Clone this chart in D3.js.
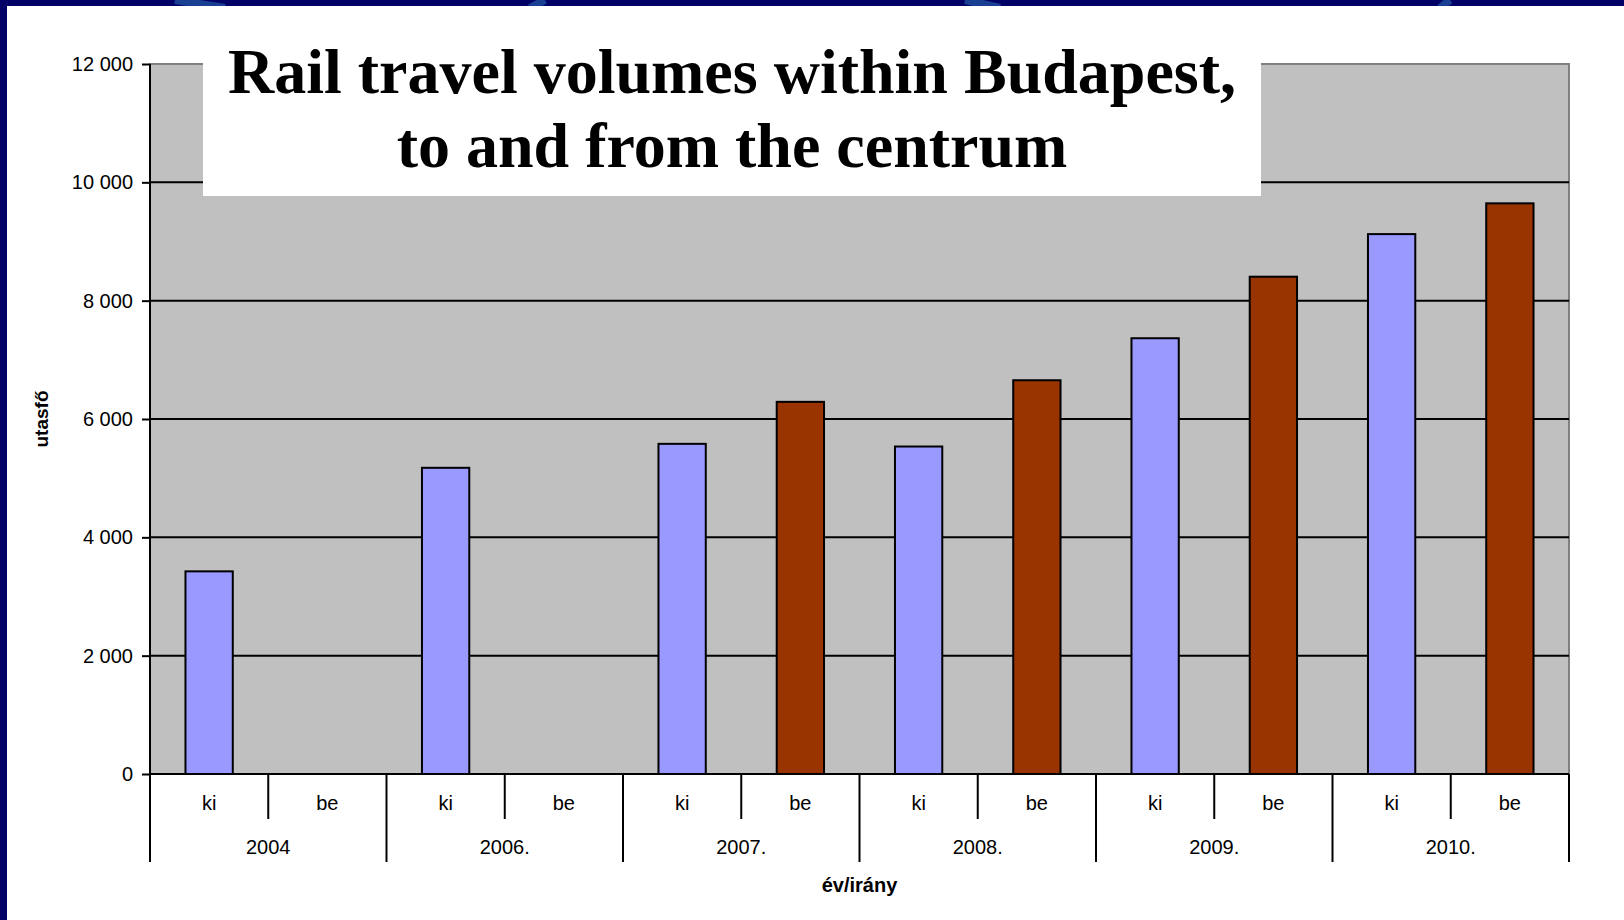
<!DOCTYPE html>
<html>
<head>
<meta charset="utf-8">
<script src="https://cdn.jsdelivr.net/npm/d3@7"></script>
<style>
  html, body { margin: 0; padding: 0; background: #000066; }
  svg { display: block; }
</style>
</head>
<body>
<svg id="chart" width="1624" height="920"></svg>
<script>
// ---- data ----
const years = ["2004", "2006.", "2007.", "2008.", "2009.", "2010."];
const directions = ["ki", "be"];
const kiValues = [3425, 5175, 5580, 5535, 7365, 9125];
const beValues = [null, null, 6290, 6655, 8405, 9645];
const yTickValues = [0, 2000, 4000, 6000, 8000, 10000, 12000];
const titleLines = ["Rail travel volumes within Budapest,", "to and from the centrum"];
const yAxisTitle = "utasfő";
const xAxisTitle = "év/irány";
const seriesColors = { ki: "#9999ff", be: "#993300" };

// ---- layout ----
const W = 1624, H = 920;
const plot = { left: 150, right: 1569, top: 64, bottom: 774 };
const sansFont = "Liberation Sans, Arial, sans-serif";

const svg = d3.select("#chart");

// background frame (navy border + white panel)
svg.append("rect").attr("x", 0).attr("y", 0).attr("width", W).attr("height", H).attr("fill", "#000066");
const deco = svg.append("g").attr("stroke", "#1f4f9f").attr("stroke-width", 8).attr("fill", "none").attr("opacity", 0.8);
[[175, 225], [545, 530], [965, 1000], [1450, 1440]].forEach(([a, b]) => {
  deco.append("line").attr("x1", a).attr("y1", 0).attr("x2", b).attr("y2", 8);
});
svg.append("rect").attr("x", 7).attr("y", 6).attr("width", W - 7).attr("height", H - 6).attr("fill", "#ffffff");

// ---- scales ----
const yScale = d3.scaleLinear().domain([0, 12000]).range([plot.bottom, plot.top]);
const xYear = d3.scaleBand().domain(years).range([plot.left, plot.right]).paddingInner(0).paddingOuter(0);
const xDir = d3.scaleBand().domain(directions).range([0, xYear.bandwidth()]).paddingInner(0.6).paddingOuter(0.3);
const xCat = d3.scaleBand().domain(directions).range([0, xYear.bandwidth()]);

const fmt = v => d3.format(",")(v).replace(/,/g, " ");

// plot area
svg.append("rect")
  .attr("x", plot.left).attr("y", plot.top)
  .attr("width", plot.right - plot.left).attr("height", plot.bottom - plot.top)
  .attr("fill", "#c0c0c0").attr("stroke", "#808080").attr("stroke-width", 2);

// gridlines
svg.append("g").selectAll("line").data(yTickValues.filter(v => v > 0 && v < 12000)).join("line")
  .attr("x1", plot.left).attr("x2", plot.right)
  .attr("y1", d => yScale(d)).attr("y2", d => yScale(d))
  .attr("stroke", "#000").attr("stroke-width", 2);

// bars
const barData = [];
years.forEach((y, i) => {
  if (kiValues[i] != null) barData.push({ year: y, dir: "ki", value: kiValues[i] });
  if (beValues[i] != null) barData.push({ year: y, dir: "be", value: beValues[i] });
});
svg.append("g").selectAll("rect").data(barData).join("rect")
  .attr("x", d => xYear(d.year) + xDir(d.dir))
  .attr("width", xDir.bandwidth())
  .attr("y", d => yScale(d.value))
  .attr("height", d => yScale(0) - yScale(d.value))
  .attr("fill", d => seriesColors[d.dir])
  .attr("stroke", "#000").attr("stroke-width", 2);

// y axis
const yAxis = d3.axisLeft(yScale).tickValues(yTickValues).tickFormat(fmt).tickSize(8).tickPadding(9);
const gy = svg.append("g").attr("transform", `translate(${plot.left},0)`).call(yAxis);
gy.select(".domain").attr("stroke", "#000").attr("stroke-width", 2).attr("d", `M-0,${plot.top}V${plot.bottom}`);
gy.selectAll(".tick line").attr("stroke", "#000").attr("stroke-width", 2);
gy.selectAll(".tick text").attr("font-family", sansFont).attr("font-size", 20).attr("fill", "#000");

// x axis line
svg.append("line").attr("x1", plot.left).attr("x2", plot.right)
  .attr("y1", plot.bottom).attr("y2", plot.bottom)
  .attr("stroke", "#000").attr("stroke-width", 2);

const gx = svg.append("g");
gx.selectAll("line.inner").data(years).join("line").attr("class", "inner")
  .attr("x1", d => xYear(d) + xCat.step()).attr("x2", d => xYear(d) + xCat.step())
  .attr("y1", plot.bottom).attr("y2", plot.bottom + 45)
  .attr("stroke", "#000").attr("stroke-width", 2);
const yearEdges = years.map(d => xYear(d)).concat([xYear(years[years.length - 1]) + xYear.bandwidth()]);
gx.selectAll("line.outer").data(yearEdges).join("line").attr("class", "outer")
  .attr("x1", d => d).attr("x2", d => d)
  .attr("y1", plot.bottom).attr("y2", plot.bottom + 88)
  .attr("stroke", "#000").attr("stroke-width", 2);
const dirLabels = [];
years.forEach(y => directions.forEach(d => dirLabels.push({ year: y, dir: d })));
gx.selectAll("text.dir").data(dirLabels).join("text").attr("class", "dir")
  .attr("x", d => xYear(d.year) + xCat(d.dir) + xCat.bandwidth() / 2)
  .attr("y", plot.bottom + 31)
  .attr("text-anchor", "middle").attr("dominant-baseline", "middle")
  .attr("font-family", sansFont).attr("font-size", 20).attr("fill", "#000")
  .text(d => d.dir);
gx.selectAll("text.year").data(years).join("text").attr("class", "year")
  .attr("x", d => xYear(d) + xYear.bandwidth() / 2)
  .attr("y", plot.bottom + 75)
  .attr("text-anchor", "middle").attr("dominant-baseline", "middle")
  .attr("font-family", sansFont).attr("font-size", 20).attr("fill", "#000")
  .text(d => d);

// axis titles
svg.append("text")
  .attr("x", (plot.left + plot.right) / 2).attr("y", 887)
  .attr("text-anchor", "middle").attr("dominant-baseline", "middle")
  .attr("font-family", sansFont).attr("font-size", 20).attr("font-weight", "bold").attr("fill", "#000")
  .text(xAxisTitle);
svg.append("text")
  .attr("transform", `translate(43,${(plot.top + plot.bottom) / 2}) rotate(-90)`)
  .attr("text-anchor", "middle").attr("dominant-baseline", "middle")
  .attr("font-family", sansFont).attr("font-size", 19).attr("font-weight", "bold").attr("fill", "#000")
  .text(yAxisTitle);

// title box
svg.append("rect").attr("x", 203).attr("y", 20).attr("width", 1058).attr("height", 176).attr("fill", "#ffffff");
svg.append("g").selectAll("text").data(titleLines).join("text")
  .attr("x", 732).attr("y", (d, i) => 93 + i * 73.5)
  .attr("text-anchor", "middle")
  .attr("font-family", "Liberation Serif, 'Times New Roman', serif")
  .attr("font-size", 64).attr("font-weight", "bold").attr("fill", "#000")
  .text(d => d);
</script>
</body>
</html>
